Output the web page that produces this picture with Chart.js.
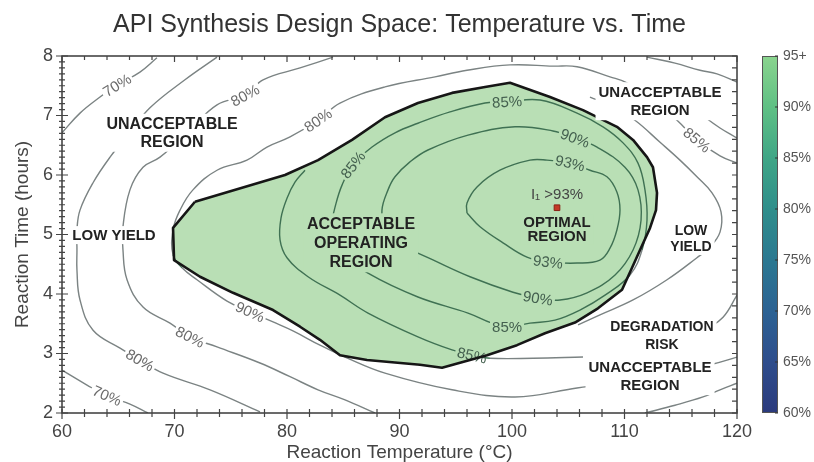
<!DOCTYPE html>
<html>
<head>
<meta charset="utf-8">
<title>API Synthesis Design Space</title>
<script src="https://cdn.jsdelivr.net/npm/chart.js@4.4.1/dist/chart.umd.min.js"></script>
<style>
  html, body { margin: 0; padding: 0; background: #fff; }
  canvas { display: block; }
</style>
</head>
<body>
<canvas id="ds" width="814" height="462"></canvas>
<script>
// values: x = temperature (°C), y = time (h)
var cbTicks = [60, 65, 70, 75, 80, 85, 90, 95];
var cbTickLabels = ["60%", "65%", "70%", "75%", "80%", "85%", "90%", "95+"];

// acceptable operating region (closed outline)
var acceptRegion = [[71.82,5.55],[69.87,5.11],[69.96,4.57],[72.27,4.29],[75.2,4.02],[78.76,3.73],[81.16,3.45],[82.93,3.23],[84.71,2.97],[87.11,2.89],[91.82,2.81],[93.78,2.76],[97.78,2.97],[100.44,3.14],[102.93,3.34],[105.6,3.52],[107.64,3.76],[109.78,4.07],[110.67,4.44],[111.38,4.74],[112.27,5.11],[112.8,5.41],[112.89,5.7],[112.53,6.13],[112.0,6.3],[110.76,6.59],[109.33,6.81],[106.31,7.09],[103.38,7.31],[99.82,7.55],[97.6,7.48],[94.67,7.38],[91.64,7.21],[88.71,6.97],[85.78,6.59],[82.76,6.25],[79.82,6.0],[71.82,5.55]];

// yield contours
var k70top = [[60,6.71],[61.6,7.04],[63.38,7.31],[64.89,7.51],[66.93,7.73],[68.44,7.97]];
var k70bot = [[60,2.72],[62.22,2.47],[64.0,2.29],[66.04,2.15],[67.64,2.0]];
var k80outer = [[73.78,7.98],[70.93,7.6],[67.82,7.13],[66.04,6.72],[64.27,6.3],[62.76,5.87],[61.6,5.41],[61.33,5.08],[61.33,4.74],[61.33,4.4],[61.6,3.9],[62.76,3.39],[65.16,3.09],[66.93,2.89],[68.98,2.67],[73.16,2.39],[77.6,2.02]];
var k80inner = [[84.09,7.98],[81.16,7.8],[77.87,7.6],[76.27,7.34],[73.78,7.18],[71.38,6.76],[68.71,6.3],[67.2,6.13],[66.04,5.75],[65.42,5.13],[65.42,4.74],[65.78,4.24],[67.2,3.78],[69.6,3.51],[71.38,3.28],[73.78,3.11],[77.6,2.84],[80.27,2.61],[82.76,2.39],[85.16,2.22],[87.82,2.0]];
var k85outer = [[120,6.2],[118.49,6.32],[116.44,6.59],[114.67,6.92],[112.27,7.31],[110.22,7.55],[108.71,7.65],[105.78,7.82],[103.64,7.83],[99.82,7.85],[96.0,7.76],[93.16,7.65],[88.71,7.48],[84.71,7.21],[82.76,6.92],[80.27,6.64],[78.22,6.47],[76.44,6.25],[73.78,6.08],[71.64,5.75],[70.49,5.41],[69.87,5.08],[69.87,4.66],[70.67,4.44],[72.0,4.24],[74.67,3.88],[76.71,3.7],[78.76,3.53],[80.53,3.38],[82.93,3.14],[85.16,2.94],[88.71,2.67],[94.67,2.39],[100.27,2.27],[105.78,2.42],[112.27,2.59],[117.78,2.82],[120,2.94]];
var k85mid = [[81.6,6.08],[80.71,5.88],[80.0,5.61],[79.47,5.28],[79.38,4.91],[80.0,4.61],[81.87,4.29],[84.71,3.98],[87.2,3.68],[91.64,3.28],[94.67,3.06],[96.44,2.97],[98.04,2.92],[101.87,2.92],[106.31,2.94]];
var k85inner = [[83.82,5.08],[84.27,5.46],[84.89,5.83],[85.87,6.17],[87.56,6.47],[89.6,6.71],[91.64,6.87],[94.49,7.06],[97.6,7.21],[99.56,7.23],[102.49,7.26],[105.78,7.04],[108.09,6.81],[109.87,6.54],[111.2,6.2],[111.82,5.75],[112.0,5.24],[111.56,4.74],[110.49,4.32],[108.27,3.98],[106.04,3.73],[103.82,3.56],[101.6,3.51],[99.56,3.45],[98.22,3.51],[96.09,3.68],[91.64,3.95],[87.2,4.35],[84.71,4.71],[83.82,5.08]];
var k90 = [[90.04,4.82],[88.71,5.11],[88.44,5.41],[88.98,5.75],[89.6,5.97],[90.93,6.22],[92.53,6.42],[96.09,6.67],[100.27,6.81],[103.64,6.74],[105.6,6.62],[107.56,6.47],[110.04,6.13],[111.2,5.75],[111.47,5.24],[110.76,4.74],[109.16,4.32],[106.67,4.02],[104.27,3.9],[102.31,3.93],[100.09,4.03],[96.27,4.29],[92.53,4.61],[90.04,4.82]];
var k93 = [[96.0,5.36],[96.0,5.53],[96.89,5.8],[98.93,6.08],[101.6,6.25],[103.11,6.25],[105.16,6.2],[106.93,6.08],[108.44,5.97],[109.33,5.71],[109.6,5.41],[109.33,5.08],[108.71,4.77],[107.82,4.57],[105.78,4.52],[103.2,4.54],[101.33,4.62],[99.2,4.86],[97.16,5.13],[96.0,5.36]];
var r1 = [[112.0,7.98],[114.49,7.88],[116.71,7.76],[118.22,7.7],[120,7.56]];
var r2 = [[115.82,7.18],[117.16,6.97],[118.49,6.79],[120,6.62]];
var r3 = [[106.93,7.31],[108.89,7.16],[110.93,6.92],[113.16,6.55],[114.93,6.25],[116.44,5.97],[117.78,5.7],[118.58,5.38],[118.49,5.04],[117.6,4.79],[116.44,4.61],[113.78,4.24],[110.76,3.9],[107.82,3.65],[105.87,3.48]];
var r4 = [[117.16,3.39],[118.76,3.61],[120,3.98]];
var r5 = [[111.82,2.0],[114.49,2.13],[116.98,2.27],[118.49,2.39],[120,2.5]];

var optimum = [[104.0,5.45]];

// [contour, vertex index, text]
var contourLabels = [
	["k70top", 3, "70%"], ["k70bot", 2, "70%"],
	["k80outer", 13, "80%"], ["k80inner", 3, "80%"], ["k80inner", 14, "80%"],
	["k85outer", 2, "85%"], ["k85outer", 14, "80%"], ["k85outer", 26, "90%"],
	["k85mid", 11, "85%"],
	["k85inner", 3, "85%"], ["k85inner", 9, "85%"], ["k85inner", 23, "85%"],
	["k90", 10, "90%"], ["k90", 19, "90%"],
	["k93", 6, "93%"], ["k93", 15, "93%"]
];

var regionTexts = [
	[["UNACCEPTABLE", "REGION"], 69.78, 6.71],
	[["LOW YIELD"], 64.62, 4.99],
	[["ACCEPTABLE", "OPERATING", "REGION"], 86.58, 4.86],
	[["OPTIMAL", "REGION"], 104.0, 5.09],
	[["UNACCEPTABLE", "REGION"], 113.16, 7.24],
	[["LOW", "YIELD"], 115.91, 4.94],
	[["DEGRADATION", "RISK"], 113.33, 3.31],
	[["UNACCEPTABLE", "REGION"], 112.27, 2.62]
];
var optimumNote = ["I\u2081 >93%", 104.0, 5.66];

// ---- styling ----
var FONT = "'Liberation Sans', Arial, Helvetica, sans-serif";
var GREEN = "#b9dfb5";
var LINE_OUT = "#7b8383", LINE_IN = "#3f7153";
var regionSize = [16, 15, 16, 15, 15, 14, 14, 15];
var regionGap  = [18, 16, 19, 14, 18, 16, 18, 18];
var cbColors = ["#2b3a7c", "#2e4d8c", "#2c6293", "#2b7891", "#2f8e8b", "#3fa686", "#5fc084", "#8ad48e"];

Chart.defaults.font.family = FONT;

var contourByName = {k70top:k70top, k70bot:k70bot, k80outer:k80outer, k80inner:k80inner,
	k85outer:k85outer, k85mid:k85mid, k85inner:k85inner, k90:k90, k93:k93,
	r1:r1, r2:r2, r3:r3, r4:r4, r5:r5};

function toXY(pts) { return pts.map(p => ({x: p[0], y: p[1]})); }

function inRegion(x, y) {
	var inside = false, poly = acceptRegion;
	for (var i = 0, j = poly.length - 1; i < poly.length; j = i++) {
		var xi = poly[i][0], yi = poly[i][1], xj = poly[j][0], yj = poly[j][1];
		if (((yi > y) != (yj > y)) && (x < (xj - xi) * (y - yi) / (yj - yi) + xi)) inside = !inside;
	}
	return inside;
}

// region outline as a canvas path (pixel space)
function regionPath(chart, ctx) {
	var xs = chart.scales.x, ys = chart.scales.y;
	acceptRegion.forEach((p, i) => {
		var px = xs.getPixelForValue(p[0]), py = ys.getPixelForValue(p[1]);
		if (i === 0) ctx.moveTo(px, py); else ctx.lineTo(px, py);
	});
	ctx.closePath();
}

var datasets = [];
datasets.push({data: toXY(acceptRegion), showLine: true, fill: "shape", backgroundColor: GREEN,
	borderWidth: 0, pointRadius: 0, tension: 0, order: 100});

Object.keys(contourByName).forEach(name => {
	var pts = contourByName[name];
	// segment colour: dark green inside the acceptable region, grey outside
	var segIn = c => {
		var a = pts[c.p0DataIndex], b = pts[c.p1DataIndex];
		return inRegion((a[0] + b[0]) / 2, (a[1] + b[1]) / 2);
	};
	datasets.push({label: name, data: toXY(pts), showLine: true, fill: false,
		borderColor: LINE_OUT, borderWidth: 1.4,
		segment: {borderColor: c => segIn(c) ? LINE_IN : LINE_OUT},
		pointRadius: 0, tension: 0.4, order: 50});
});

var BORDER_IDX = datasets.length;
datasets.push({data: toXY(acceptRegion), showLine: true, fill: false, borderColor: "#161616",
	borderWidth: 2.6, borderJoinStyle: "round", pointRadius: 0, tension: 0, order: 10});
datasets.push({data: toXY(optimum), showLine: false, pointStyle: "rect", pointRadius: 4,
	backgroundColor: "#c43a26", borderColor: "#8a2214", borderWidth: 1, order: 0});

function drawContourLabels(chart) {
	var ctx = chart.ctx, xs = chart.scales.x, ys = chart.scales.y, area = chart.chartArea;
	ctx.save();
	ctx.font = "15px " + FONT;
	ctx.textAlign = "center";
	ctx.textBaseline = "middle";
	contourLabels.forEach(([name, i, text]) => {
		var pts = contourByName[name];
		var p = pts[i], a = pts[Math.max(i - 1, 0)], b = pts[Math.min(i + 1, pts.length - 1)];
		var ang = Math.atan2(ys.getPixelForValue(b[1]) - ys.getPixelForValue(a[1]),
			xs.getPixelForValue(b[0]) - xs.getPixelForValue(a[0]));
		if (ang > Math.PI / 2) ang -= Math.PI;
		if (ang < -Math.PI / 2) ang += Math.PI;
		var inside = inRegion(p[0], p[1]);
		var w = ctx.measureText(text).width + 4;
		// background patch, kept on its own side of the region outline
		ctx.save();
		ctx.beginPath();
		if (!inside) ctx.rect(area.left, area.top, area.right - area.left, area.bottom - area.top);
		regionPath(chart, ctx);
		ctx.clip("evenodd");
		ctx.translate(xs.getPixelForValue(p[0]), ys.getPixelForValue(p[1]));
		ctx.rotate(ang);
		ctx.fillStyle = inside ? GREEN : "#fff";
		ctx.fillRect(-w / 2, -7, w, 14);
		ctx.restore();
		ctx.save();
		ctx.translate(xs.getPixelForValue(p[0]), ys.getPixelForValue(p[1]));
		ctx.rotate(ang);
		ctx.fillStyle = inside ? "#44604f" : "#6a6a6a";
		ctx.fillText(text, 0, 1);
		ctx.restore();
	});
	ctx.restore();
}

function drawRegionText(chart) {
	var ctx = chart.ctx, xs = chart.scales.x, ys = chart.scales.y;
	ctx.save();
	ctx.textAlign = "center";
	ctx.textBaseline = "middle";
	regionTexts.forEach(([lines, x, y], k) => {
		var px = xs.getPixelForValue(x), py = ys.getPixelForValue(y), gap = regionGap[k];
		ctx.font = "bold " + regionSize[k] + "px " + FONT;
		var w = Math.max.apply(null, lines.map(l => ctx.measureText(l).width)) + 6;
		var h = lines.length * gap + 2;
		ctx.fillStyle = inRegion(x, y) ? GREEN : "#fff";
		ctx.fillRect(px - w / 2, py - h / 2, w, h);
		ctx.fillStyle = "#222";
		lines.forEach((l, i) => ctx.fillText(l, px, py + (i - (lines.length - 1) / 2) * gap + 1));
	});
	// note over the optimum
	ctx.font = "15px " + FONT;
	ctx.fillStyle = "#444";
	ctx.fillText(optimumNote[0], xs.getPixelForValue(optimumNote[1]), ys.getPixelForValue(optimumNote[2]));
	ctx.restore();
}

function drawColorbar(chart) {
	var ctx = chart.ctx, cb = chart.scales.cb;
	var top = cb.getPixelForValue(95), bot = cb.getPixelForValue(60);
	var left = cb.left + 25, w = 16;
	var g = ctx.createLinearGradient(0, bot, 0, top);
	cbColors.forEach((c, i) => g.addColorStop(i / (cbColors.length - 1), c));
	ctx.save();
	ctx.fillStyle = g;
	ctx.fillRect(left, top, w, bot - top);
	ctx.strokeStyle = "#555";
	ctx.lineWidth = 1;
	ctx.strokeRect(left + 0.5, top + 0.5, w - 1, bot - top - 1);
	ctx.beginPath();
	cbTicks.forEach(v => {
		var py = cb.getPixelForValue(v);
		ctx.moveTo(left + w - 3, py); ctx.lineTo(left + w, py);
	});
	ctx.strokeStyle = "#333";
	ctx.stroke();
	ctx.restore();
}

function drawFrame(chart) {
	var ctx = chart.ctx, a = chart.chartArea, xs = chart.scales.x, ys = chart.scales.y;
	ctx.save();
	ctx.strokeStyle = "#3a3a3a";
	ctx.lineWidth = 1.5;
	ctx.strokeRect(a.left, a.top, a.right - a.left, a.bottom - a.top);
	ctx.lineWidth = 1.2;
	ctx.strokeStyle = "#444";
	ctx.beginPath();
	for (var v = 60; v <= 120; v += 2) {
		var px = xs.getPixelForValue(v), major = v % 10 === 0;
		ctx.moveTo(px, a.bottom - 4); ctx.lineTo(px, a.bottom + (major ? 6 : 4));
		ctx.moveTo(px, a.top); ctx.lineTo(px, a.top + (major ? 6 : 4));
	}
	for (var i = 20; i <= 80; i++) {
		var py = ys.getPixelForValue(i / 10), maj = i % 10 === 0;
		ctx.moveTo(a.left - (maj ? 6 : 3), py); ctx.lineTo(a.left + (maj ? 6 : 3), py);
		if (i % 2 === 0) { ctx.moveTo(a.right - 5, py); ctx.lineTo(a.right, py); }
	}
	ctx.stroke();
	ctx.restore();
}

var decor = {
	id: "decor",
	beforeDatasetDraw(chart, args) {
		if (args.index === BORDER_IDX) drawContourLabels(chart);
	},
	afterDatasetsDraw(chart) {
		drawRegionText(chart);
		drawColorbar(chart);
	},
	afterDraw(chart) { drawFrame(chart); }
};

// fixed box sizes so the plot frame sits where it does in the picture
function fixBox(w, h) {
	return function(s) {
		if (w) s.width = w;
		if (h) s.height = h;
		s.paddingTop = s.paddingBottom = s.paddingLeft = s.paddingRight = 0;
	};
}

var ctx = document.getElementById("ds").getContext("2d");
var chart = new Chart(ctx, {
	type: "scatter",
	data: {datasets: datasets},
	plugins: [decor],
	options: {
		responsive: false,
		animation: false,
		events: [],
		layout: {padding: 0},
		plugins: {
			legend: {display: false},
			tooltip: {enabled: false},
			title: {
				display: true, fullSize: false,
				text: "API Synthesis Design Space: Temperature vs. Time",
				color: "#333", font: {size: 25, weight: "normal"},
				padding: {top: 10, bottom: 16}
			}
		},
		scales: {
			x: {
				type: "linear", min: 60, max: 120,
				ticks: {stepSize: 10, color: "#444", font: {size: 18}, padding: 8},
				grid: {display: false, drawTicks: false},
				border: {display: false},
				title: {display: true, text: "Reaction Temperature (°C)", color: "#444",
					font: {size: 19, lineHeight: 1}, padding: 0},
				afterFit: fixBox(0, 49)
			},
			y: {
				type: "linear", min: 2, max: 8,
				ticks: {stepSize: 1, color: "#444", font: {size: 18}, padding: 9},
				grid: {display: false, drawTicks: false},
				border: {display: false},
				title: {display: true, text: "Reaction Time (hours)", color: "#444",
					font: {size: 19}, padding: {top: 11, bottom: 0}},
				afterFit: fixBox(62, 0)
			},
			cb: {
				type: "linear", position: "right", min: 60, max: 95,
				ticks: {stepSize: 5, color: "#555", font: {size: 14}, padding: 46,
					callback: v => cbTickLabels[cbTicks.indexOf(v)]},
				grid: {display: false, drawTicks: false},
				border: {display: false},
				afterFit: fixBox(77, 0)
			}
		}
	}
});
</script>
</body>
</html>
